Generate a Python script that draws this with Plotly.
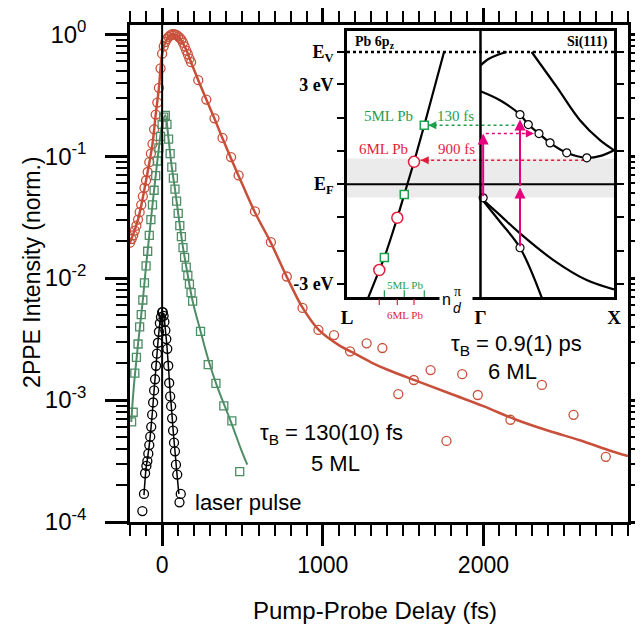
import plotly.graph_objects as go

# ---------------- main panel data (delay in fs, normalized 2PPE intensity) ----------------
red_x = [-200, -190, -180, -170, -160, -150, -140, -130, -120, -110, -100, -90, -80, -70, -60,
         -50, -40, -30, -20, -10, 0, 10, 20, 30, 40, 50, 60, 70, 80, 90, 100, 110, 120, 130,
         140, 150, 160, 170, 180, 225, 275, 326, 376, 429, 476, 578, 677, 776, 874, 973, 1070,
         1170, 1273, 1371, 1470, 1567, 1671, 1770, 1868, 1965, 2168, 2364, 2561, 2762]
red_y = [0.0195, 0.0209, 0.0224, 0.0245, 0.0269, 0.0302, 0.0347, 0.0398, 0.0468, 0.0550,
         0.0631, 0.0741, 0.0891, 0.105, 0.126, 0.166, 0.219, 0.275, 0.363, 0.525, 0.692,
         0.794, 0.861, 0.912, 0.951, 0.977, 0.993, 1.0, 0.995, 0.982, 0.959, 0.933, 0.902,
         0.851, 0.794, 0.733, 0.684, 0.631, 0.589, 0.419, 0.291, 0.204, 0.141, 0.0982,
         0.0695, 0.0352, 0.0197, 0.0103, 0.00569, 0.00376, 0.00341, 0.00251, 0.00292,
         0.00267, 0.00112, 0.00146, 0.00176, 0.000462, 0.00163, 0.00110, 0.000689,
         0.00133, 0.000757, 0.000342]
red_fit_x = [-200, -150, -100, -60, -40, -20, 0, 20, 40, 70, 100, 140, 180, 225, 275, 325,
             375, 425, 475, 575, 675, 775, 875, 975, 1100, 1200, 1300, 1400, 1600, 1800,
             2000, 2200, 2400, 2600, 2800, 2900]
red_fit_y = [0.0195, 0.0302, 0.0631, 0.126, 0.219, 0.363, 0.692, 0.861, 0.951, 1.0, 0.959,
             0.794, 0.589, 0.419, 0.291, 0.204, 0.141, 0.0984, 0.0695, 0.0352, 0.0197,
             0.0103, 0.00569, 0.00376, 0.00282, 0.00240, 0.00204, 0.00178, 0.00141,
             0.00112, 0.000891, 0.000692, 0.000562, 0.000468, 0.000380, 0.000347]

green_x = [-190, -180, -170, -160, -150, -140, -130, -120, -110, -100, -90, -80, -70, -60,
           -50, -40, -30, -20, -10, 0, 10, 20, 30, 40, 50, 60, 70, 80, 90, 100, 110, 120,
           130, 140, 150, 160, 170, 180, 190, 239, 287, 335, 384, 434, 483]
green_y = [0.000661, 0.000794, 0.00166, 0.00224, 0.00288, 0.00398, 0.00501, 0.00661,
           0.00912, 0.0126, 0.0166, 0.0224, 0.0302, 0.0398, 0.0525, 0.0692, 0.0912, 0.117,
           0.145, 0.182, 0.209, 0.216, 0.182, 0.138, 0.105, 0.0813, 0.0661, 0.0537, 0.0427,
           0.0339, 0.0269, 0.0219, 0.0178, 0.0148, 0.0123, 0.0105, 0.00891, 0.00759,
           0.00646, 0.00366, 0.00195, 0.00137, 0.000897, 0.000676, 0.000259]
green_fit_x = [-192, -180, -170, -150, -120, -100, -80, -60, -40, -20, 0, 20, 40, 60, 80,
               100, 130, 160, 190, 240, 290, 340, 390, 440, 490, 530]
green_fit_y = [0.000661, 0.00112, 0.00158, 0.00288, 0.00661, 0.0126, 0.0224, 0.0398,
               0.0692, 0.117, 0.182, 0.216, 0.138, 0.0813, 0.0537, 0.0339, 0.0178, 0.0105,
               0.00646, 0.00363, 0.00209, 0.00132, 0.000891, 0.000603, 0.000398, 0.000295]

laser_x = [-123, -113, -106, -98, -92, -86, -80, -74, -68, -62, -56, -50, -44, -38, -32,
           -26, -20, -14, -7, 0, 4, 9, 14, 20, 26, 32, 38, 44, 50, 56, 62, 68, 74, 80, 86,
           94, 108, 116]
laser_y = [0.000123, 0.000170, 0.000251, 0.000288, 0.000316, 0.000363, 0.000427, 0.000501,
           0.000603, 0.000759, 0.000955, 0.00120, 0.00148, 0.00191, 0.00240, 0.00295,
           0.00363, 0.00427, 0.00479, 0.00525, 0.00525, 0.00490, 0.00437, 0.00372, 0.00316,
           0.00263, 0.00191, 0.00138, 0.00107, 0.000891, 0.000708, 0.000562, 0.000447,
           0.000380, 0.000295, 0.000245, 0.000145, 0.000170]
laser_fit_x = [-113, -100, -90, -80, -70, -60, -50, -40, -30, -20, -10, 0, 10, 20, 30, 40,
               50, 60, 70, 80, 90, 104]
laser_fit_y = [0.000166, 0.000275, 0.000339, 0.000427, 0.000575, 0.000813, 0.00120, 0.00174,
               0.00257, 0.00363, 0.00468, 0.00525, 0.00490, 0.00380, 0.00275, 0.00182,
               0.00117, 0.000794, 0.000537, 0.000380, 0.000269, 0.000170]

x_major = [0, 1000, 2000]
x_major_text = ["0", "1000", "2000"]
y_major = [1e-4, 1e-3, 1e-2, 1e-1, 1]
y_major_text = ["10<sup>-4</sup>", "10<sup>-3</sup>", "10<sup>-2</sup>", "10<sup>-1</sup>", "10<sup>0</sup>"]

# ---------------- inset data (k in units L=0, Gamma=1, X=2; E in eV) ----------------
pb_band_k = [0.160, 0.242, 0.280, 0.377, 0.429, 0.502, 0.579, 0.727]
pb_band_E = [-3.40, -2.58, -2.20, -1.01, -0.31, 0.67, 1.77, 3.97]
qws6_k = [0.242, 0.377, 0.502]
qws6_E = [-2.58, -1.01, 0.67]
qws5_k = [0.280, 0.429, 0.579]
qws5_E = [-2.20, -0.31, 1.77]

si_cb1_k = [1.0, 1.146, 1.296, 1.358, 1.438, 1.521, 1.646, 1.796, 1.90, 2.0]
si_cb1_E = [2.79, 2.52, 2.09, 1.79, 1.52, 1.24, 0.94, 0.79, 0.85, 1.02]
si_cb2_k = [1.383, 1.571, 1.745, 1.895, 2.0]
si_cb2_E = [3.97, 2.92, 1.92, 1.32, 1.02]
si_cb3_k = [1.0, 1.06, 1.13, 1.196]
si_cb3_E = [3.57, 3.76, 3.89, 3.97]
si_vb1_k = [1.0, 1.146, 1.296, 1.546, 1.795, 2.0]
si_vb1_E = [-0.40, -0.93, -1.48, -2.28, -2.88, -3.16]
si_vb2_k = [1.0, 1.146, 1.296, 1.458]
si_vb2_E = [-0.40, -1.13, -1.91, -3.40]
si_circ_k = [1.296, 1.358, 1.438, 1.521, 1.646, 1.796, 1.02, 1.296]
si_circ_E = [2.09, 1.79, 1.52, 1.24, 0.94, 0.79, -0.41, -1.91]

E_ticks = [-3, -2, -1, 0, 1, 2, 3, 3.97]
E_tick_text = ["-3 eV", "", "", "<b>E</b><sub>F</sub>", "", "", "3 eV", "<b>E</b><sub>V</sub>"]
k_ticks = [0, 1, 2]
k_tick_text = ["L", "Γ", "X"]
E_vac = 3.97
gap_band = [-0.40, 0.77]

RED = "#c8503a"
GREEN = "#4e8d66"
IG = "#1f9e4b"
IR = "#e01e3c"
MAG = "#e5007d"
SANS = "Liberation Sans, Arial, sans-serif"
SERIF = "Liberation Serif, Times New Roman, serif"

fig = go.Figure()

# main fits
fig.add_trace(go.Scatter(x=red_fit_x, y=red_fit_y, mode="lines", line=dict(color=RED, width=2.5, shape="spline"), hoverinfo="skip"))
fig.add_trace(go.Scatter(x=green_fit_x, y=green_fit_y, mode="lines", line=dict(color=GREEN, width=2, shape="spline"), hoverinfo="skip"))
fig.add_trace(go.Scatter(x=laser_fit_x, y=laser_fit_y, mode="lines", line=dict(color="black", width=1.5, shape="spline"), hoverinfo="skip"))
# main markers
fig.add_trace(go.Scatter(x=red_x, y=red_y, mode="markers", marker=dict(symbol="circle-open", size=9, color=RED, line=dict(width=1.3))))
fig.add_trace(go.Scatter(x=green_x, y=green_y, mode="markers", marker=dict(symbol="square-open", size=8, color=GREEN, line=dict(width=1.3))))
fig.add_trace(go.Scatter(x=laser_x, y=laser_y, mode="markers", marker=dict(symbol="circle-open", size=9, color="black", line=dict(width=1.3))))

# inset traces
def inset_line(k, E, width=2.2):
    fig.add_trace(go.Scatter(x=k, y=E, xaxis="x2", yaxis="y2", mode="lines",
                             line=dict(color="black", width=width, shape="spline"), hoverinfo="skip"))

inset_line(pb_band_k, pb_band_E)
inset_line(si_cb1_k, si_cb1_E)
inset_line(si_cb2_k, si_cb2_E)
inset_line(si_cb3_k, si_cb3_E)
inset_line(si_vb1_k, si_vb1_E)
inset_line(si_vb2_k, si_vb2_E)

# dotted arrows (lines)
fig.add_trace(go.Scatter(x=[1.30, qws5_k[2] + 0.03], y=[qws5_E[2], qws5_E[2]], xaxis="x2", yaxis="y2", mode="lines",
                         line=dict(color=IG, width=1.6, dash="dot"), hoverinfo="skip"))
fig.add_trace(go.Scatter(x=[si_circ_k[5] - 0.02, qws6_k[2] + 0.05], y=[0.72, 0.72], xaxis="x2", yaxis="y2", mode="lines",
                         line=dict(color=IR, width=1.6, dash="dot"), hoverinfo="skip"))
fig.add_trace(go.Scatter(x=[1.04, 1.40], y=[1.52, 1.52], xaxis="x2", yaxis="y2", mode="lines",
                         line=dict(color=MAG, width=1.6, dash="dot"), hoverinfo="skip"))

fig.add_trace(go.Scatter(x=qws6_k, y=qws6_E, xaxis="x2", yaxis="y2", mode="markers",
                         marker=dict(symbol="circle", size=11, color="white", line=dict(color=IR, width=1.5))))
fig.add_trace(go.Scatter(x=qws5_k, y=qws5_E, xaxis="x2", yaxis="y2", mode="markers",
                         marker=dict(symbol="square", size=8, color="white", line=dict(color=IG, width=1.5))))
fig.add_trace(go.Scatter(x=si_circ_k, y=si_circ_E, xaxis="x2", yaxis="y2", mode="markers",
                         marker=dict(symbol="circle", size=8, color="white", line=dict(color="black", width=1.2))))

shapes = []
# zero delay line
shapes.append(dict(type="line", xref="x", yref="y domain", x0=0, x1=0, y0=0, y1=1, line=dict(color="black", width=2)))
# inset: gap band, E_F, E_V, divider
shapes.append(dict(type="rect", xref="x2", yref="y2", x0=0, x1=2, y0=gap_band[0], y1=gap_band[1],
                   fillcolor="#ebebeb", line=dict(width=0), layer="below"))
shapes.append(dict(type="line", xref="x2", yref="y2", x0=0, x1=2, y0=0, y1=0, line=dict(color="black", width=2)))
shapes.append(dict(type="line", xref="x2", yref="y2", x0=0, x1=2, y0=E_vac, y1=E_vac, line=dict(color="black", width=2.5, dash="dot")))
shapes.append(dict(type="line", xref="x2", yref="y2 domain", x0=1, x1=1, y0=0, y1=1, line=dict(color="black", width=2.5)))
# small QWS ticks at the bottom of the Pb panel
for k in qws5_k:
    shapes.append(dict(type="line", xref="x2", yref="y2", x0=k, x1=k, y0=-3.39, y1=-3.19, line=dict(color=IG, width=1.2)))
for k in qws6_k:
    shapes.append(dict(type="line", xref="x2", yref="paper", x0=k, x1=k, y0=0.4366, y1=0.4487, line=dict(color=IR, width=1.2)))
# fraction bar of n pi/d
shapes.append(dict(type="line", xref="x2", yref="paper", x0=0.79, x1=0.87, y0=0.4467, y1=0.4467, line=dict(color="black", width=1)))

ann = []
def A(text, x, y, size=22, color="black", xref="x", yref="y", font=SANS, xanchor="center", **kw):
    d = dict(text=text, x=x, y=y, xref=xref, yref=yref, showarrow=False, xanchor=xanchor,
             yanchor="middle", font=dict(family=font, size=size, color=color))
    d.update(kw)
    ann.append(d)

# axis titles
A("Pump-Probe Delay (fs)", 0.492, -0.178, size=24, xref="paper", yref="paper")
A("2PPE Intensity (norm.)", -0.197, 0.503, size=23, xref="paper", yref="paper", textangle=-90)

# main annotations (y in log10 units)
A("τ<sub>B</sub> = 0.9(1) ps", 2207, -2.545)
A("6 ML", 2183, -2.77)
A("τ<sub>B</sub> = 130(10) fs", 1056, -3.277)
A("5 ML", 1081, -3.52)
A("laser pulse", 190, -3.844, xanchor="left")

# inset annotations
A("<b>Pb 6p<sub>z</sub></b>", 0.045, 4.27, size=14, xref="x2", yref="y2", font=SERIF, xanchor="left")
A("<b>Si(111)</b>", 1.97, 4.27, size=14, xref="x2", yref="y2", font=SERIF, xanchor="right")
A("5ML Pb", 0.31, 2.06, size=15, color=IG, xref="x2", yref="y2", font=SERIF)
A("130 fs", 0.815, 2.06, size=15, color=IG, xref="x2", yref="y2", font=SERIF)
A("6ML Pb", 0.27, 1.06, size=15, color=IR, xref="x2", yref="y2", font=SERIF)
A("900 fs", 0.82, 1.06, size=15, color=IR, xref="x2", yref="y2", font=SERIF)
A("5ML Pb", 0.434, -3.03, size=11, color=IG, xref="x2", yref="y2", font=SERIF)
A("6ML Pb", 0.434, 0.4165, size=11, color=IR, xref="x2", yref="paper", font=SERIF)
# white gap in the bottom frame for the n pi/d label
A(" ", 0.816, 0.4497, xref="x2", yref="paper", size=4, bgcolor="white", width=30, height=5)
A("n", 0.742, 0.4467, size=16, xref="x2", yref="paper")
A("π", 0.83, 0.4628, size=14, xref="x2", yref="paper", font=SERIF)
A("<i>d</i>", 0.83, 0.4306, size=14, xref="x2", yref="paper")

# arrows
def arrow(x0, y0, x1, y1, color=MAG, width=2):
    ann.append(dict(x=x1, y=y1, ax=x0, ay=y0, xref="x2", yref="y2", axref="x2", ayref="y2", text="",
                    showarrow=True, arrowhead=2, arrowsize=1.1, arrowwidth=width, arrowcolor=color))

arrow(si_circ_k[6], si_circ_E[6], si_circ_k[6], 1.52)
arrow(si_circ_k[7], si_circ_E[7], si_circ_k[7], -0.10)
arrow(si_circ_k[7], -0.10, si_circ_k[7], 1.94)

def head(x, y, dx, color):
    ann.append(dict(x=x, y=y, ax=dx, ay=0, xref="x2", yref="y2", text="", showarrow=True,
                    arrowhead=2, arrowsize=1, arrowwidth=1.6, arrowcolor=color))

head(qws5_k[2] + 0.03, qws5_E[2], 10, IG)
head(qws6_k[2] + 0.05, 0.72, 10, IR)
head(1.40, 1.52, -10, MAG)

x_minor = [v for v in range(-200, 2901, 100) if v not in x_major]
y_minor = [m * 10.0 ** e for e in range(-4, 0) for m in range(2, 10)]

# the page body adds an 8 px offset, so margins are shifted by 8 px to keep the plot in place
fig.update_layout(
    width=643, height=640,
    margin=dict(l=122, r=23, t=17, b=126, autoexpand=False),
    paper_bgcolor="white", plot_bgcolor="white",
    showlegend=False,
    shapes=shapes, annotations=ann,
    xaxis=dict(range=[-200, 2900], showline=True, linecolor="black", linewidth=2.5, mirror="ticks",
               ticks="outside", tickvals=x_major, ticktext=x_major_text, ticklen=21, tickwidth=2.5,
               tickcolor="black", showgrid=False, zeroline=False, automargin=False,
               tickfont=dict(family=SANS, size=23, color="black"),
               minor=dict(ticks="outside", tickvals=x_minor, ticklen=11, tickwidth=2, tickcolor="black")),
    yaxis=dict(type="log", range=[-4, 0.075], showline=True, linecolor="black", linewidth=2.5, mirror="ticks",
               ticks="outside", tickvals=y_major, ticktext=y_major_text, ticklen=22, tickwidth=2.5,
               tickcolor="black", showgrid=False, zeroline=False, ticklabelstandoff=14, automargin=False,
               tickfont=dict(family=SANS, size=24, color="black"),
               minor=dict(ticks="outside", tickvals=y_minor, ticklen=11, tickwidth=2, tickcolor="black")),
    xaxis2=dict(domain=[0.4357, 0.9719], anchor="y2", range=[0, 2], showline=True, linecolor="black",
                linewidth=2.5, mirror=True, ticks="", tickvals=k_ticks, ticktext=k_tick_text,
                showgrid=False, zeroline=False, ticklabelstandoff=1, automargin=False,
                tickfont=dict(family=SERIF, size=19, color="black", weight="bold")),
    yaxis2=dict(domain=[0.4527, 0.9879], anchor="x2", range=[-3.39, 4.6], showline=True, linecolor="black",
                linewidth=2.5, mirror="ticks", ticks="outside", ticklen=7, tickwidth=2, tickcolor="black",
                tickvals=E_ticks, ticktext=E_tick_text, showgrid=False, zeroline=False, ticklabelstandoff=0,
                automargin=False, tickfont=dict(family=SERIF, size=18, color="black", weight="bold")),
)

fig.write_html("out.html")
